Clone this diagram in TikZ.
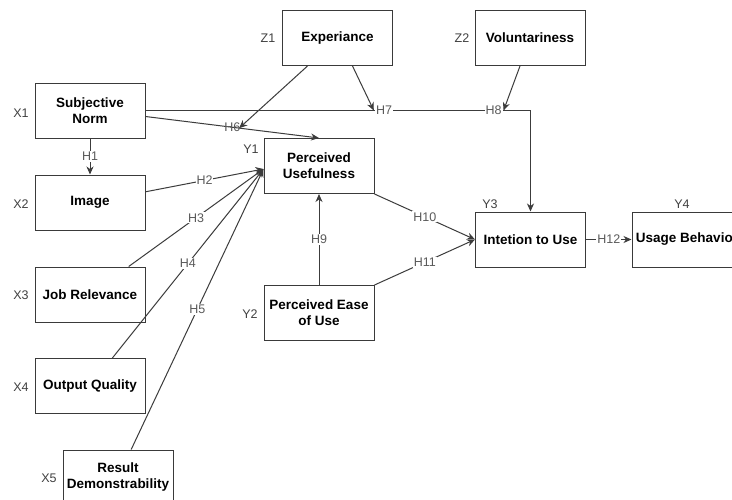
\documentclass[tikz,border=0pt]{standalone}
\usepackage{fontspec}
\setmainfont{Liberation Sans}
\usetikzlibrary{arrows.meta}
\definecolor{boxc}{HTML}{3A3A3A}
\definecolor{edgec}{HTML}{3C3C3C}
\definecolor{tagc}{HTML}{404040}
\definecolor{hc}{HTML}{5A5A5A}
\begin{document}
\begin{tikzpicture}[x=1pt,y=-1pt,
  box/.style={draw=boxc, line width=1pt, minimum width=110pt, minimum height=55pt,
    inner sep=2pt, align=center, font=\fontsize{13.5}{16}\selectfont\bfseries, text=black},
  tag/.style={text=tagc, font=\fontsize{12.5}{14}\selectfont, inner sep=1pt},
  hl/.style={text=hc, font=\fontsize{12.5}{14}\selectfont, fill=white, inner sep=1pt},
  hlnofill/.style={text=hc, font=\fontsize{12.5}{14}\selectfont, inner sep=1pt},
  edge/.style={draw=edgec, line width=1pt, -{Stealth[length=8pt,width=7pt,inset=2.5pt]}}]
\useasboundingbox (0,0) rectangle (732,499);
\clip (0,0) rectangle (732,499);
\fill[white] (0,0) rectangle (732,499);

% boxes
\node[box] (sn)  at (90,110.5)  {Subjective\\Norm};
\node[box] (img) at (90,202.5)  {Image};
\node[box] (jr)  at (90,294.5)  {Job Relevance};
\node[box] (oq)  at (90,386)    {Output Quality};
\node[box] (rd)  at (118,477.5) {Result\\Demonstrability};
\node[box] (exp) at (337.5,38)  {Experiance};
\node[box] (vol) at (530,38)    {Voluntariness};
\node[box] (pu)  at (319,166)   {Perceived\\Usefulness};
\node[box] (peu) at (319,313)   {Perceived Ease\\of Use};
\node[box] (iu)  at (530.5,239.5) {Intetion to Use};
\node[box] (ub)  at (687,239.5) {Usage Behavior};

% tags
\node[tag] (tx1) at (21,113) {X1};
\node[tag] (tx2) at (21,204) {X2};
\node[tag] (tx3) at (21,295) {X3};
\node[tag] (tx4) at (21,387) {X4};
\node[tag] (tx5) at (49,478) {X5};
\node[tag] (tz1) at (268,38) {Z1};
\node[tag] (tz2) at (462,38) {Z2};
\node[tag] (ty1) at (251,149) {Y1};
\node[tag] (ty2) at (250,314) {Y2};
\node[tag] (ty3) at (490,204) {Y3};
\node[tag] (ty4) at (682,204) {Y4};

\coordinate (puin) at ([yshift=-3pt]pu.west);

% edges
\draw[edge] (sn.south) -- node[hl] {H1} (img.north);
\draw[edge] (img) -- node[hl] {H2} (puin);
\draw[edge] (jr) -- node[hl] {H3} (puin);
\draw[edge] (oq) -- node[hl] {H4} (puin);
\draw[edge] (rd) -- node[hl] {H5} (puin);

\draw[edge] ([yshift=-6pt]sn.east) -- node[hlnofill, pos=0.5] (h6) {H6} coordinate[pos=0.54] (j6) (pu.north);
\draw[edge] (sn.east) -- (sn.east -| iu.north)
  node[hl, pos=0.62] {H7} coordinate[pos=0.593] (j7)
  node[hl, pos=0.904] {H8} coordinate[pos=0.93] (j8)
  -- (iu.north);

\draw[edge] ([xshift=-30pt]exp.south) -- (j6);
\draw[edge] ([xshift=15pt]exp.south) -- (j7);
\draw[edge] ([xshift=-10pt]vol.south) -- (j8);

\draw[edge] (peu.north) -- node[hl] {H9} (pu.south);
\draw[edge] (pu.south east) -- node[hl] {H10} (iu.west);
\draw[edge] (peu.north east) -- node[hl] {H11} (iu.west);
\draw[edge] (iu.east) -- node[hl] {H12} (ub.west);
\end{tikzpicture}
\end{document}
